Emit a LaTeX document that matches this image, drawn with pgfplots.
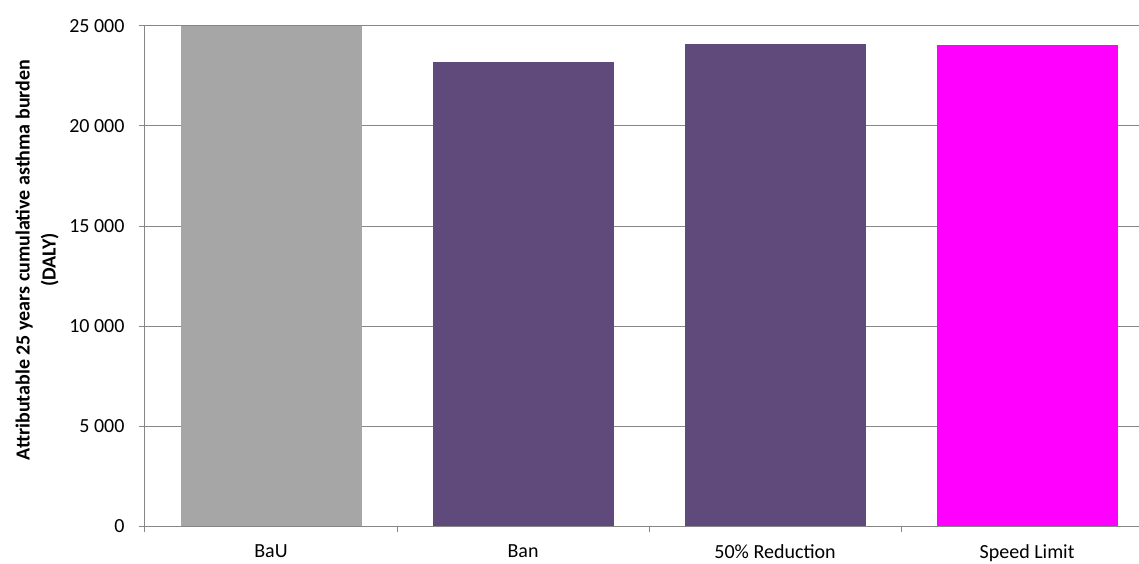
\documentclass[border=0pt]{standalone}
\usepackage{pgfplots}
\pgfplotsset{compat=1.18}
\usepackage{fontspec}
\setmainfont{Carlito}
\usetikzlibrary{calc}
\definecolor{bauGray}{HTML}{A6A6A6}
\definecolor{banPurple}{HTML}{604A7B}
\definecolor{speedMag}{HTML}{FF00FF}
\definecolor{gridGray}{HTML}{868686}
\begin{document}
\begin{tikzpicture}
\begin{axis}[
  name=ax,
  at={(0,0)}, anchor=south west,
  scale only axis,
  width=994pt, height=500pt,
  xmin=-0.5, xmax=3.444,
  ymin=0, ymax=25000,
  axis lines=left,
  axis line style={-, draw=gridGray, line width=1pt},
  ytick={0,5000,...,25000},
  yticklabels={0,5~000,10~000,15~000,20~000,25~000},
  scaled y ticks=false,
  ymajorgrids,
  grid style={draw=gridGray, line width=1pt},
  xtick={0,1,2,3},
  xticklabels={BaU,Ban,50\% Reduction,Speed Limit},
  minor xtick={-0.5,0.5,1.5,2.5},
  major x tick style={draw=none},
  minor x tick style={draw=gridGray, line width=1pt},
  minor tick length=6pt,
  major tick length=6pt,
  y tick style={draw=gridGray, line width=1pt},
  tick align=outside,
  tick label style={font=\fontsize{20}{24}\selectfont},
  xticklabel style={yshift=-9pt},
  yticklabel style={xshift=-11pt},
  ylabel={\textbf{Attributable 25 years cumulative asthma burden}\\\textbf{(DALY)}},
  every axis y label/.style={
    at={($(rel axis cs:0,0.532)+(-108pt,0)$)},
    rotate=90, anchor=center, align=center,
    font=\fontsize{20}{26}\selectfont},
  ybar,
  bar width=181pt,
  bar shift=0pt,
]
\addplot[fill=bauGray, draw=none, bar shift=0pt] coordinates {(0,25000)};
\addplot[fill=banPurple, draw=none, bar shift=0pt] coordinates {(1,23180)};
\addplot[fill=banPurple, draw=none, bar shift=0pt] coordinates {(2,24100)};
\addplot[fill=speedMag, draw=none, bar shift=0pt] coordinates {(3,24050)};
\end{axis}
\pgfresetboundingbox
\path ($(ax.south west)+(-145pt,-37pt)$) rectangle ($(ax.north east)+(0pt,26pt)$);
\end{tikzpicture}
\end{document}
